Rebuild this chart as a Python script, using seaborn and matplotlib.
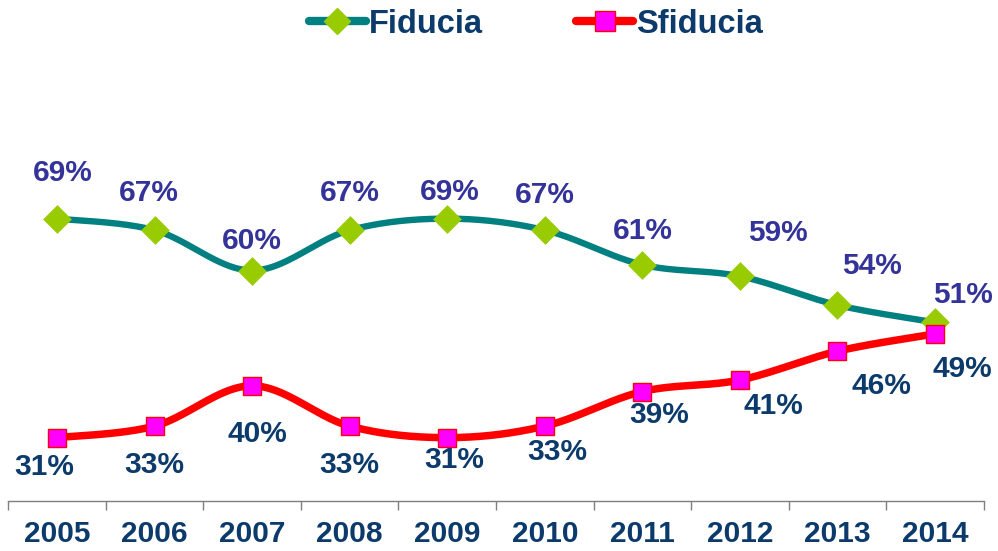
import numpy as np
import pandas as pd
import matplotlib
matplotlib.use("Agg")
import matplotlib.pyplot as plt
from matplotlib.lines import Line2D
from matplotlib import font_manager
import seaborn as sns

years = ["2005", "2006", "2007", "2008", "2009", "2010", "2011", "2012", "2013", "2014"]
fiducia = [69, 67, 60, 67, 69, 67, 61, 59, 54, 51]
sfiducia = [31, 33, 40, 33, 31, 33, 39, 41, 46, 49]

# label offsets in points (dx, dy)
fid_off = [(4, 33), (-4, 27), (0, 21), (0, 27), (2, 19), (0, 25), (0, 24), (27, 31), (25, 28), (20, 20)]
sfi_off = [(-9, -21), (0, -28), (4, -35), (0, -28), (5, -16), (9, -19), (12, -17), (24, -19), (32, -25), (20, -25)]

sns.set_theme(style="white")
names = {f.name for f in font_manager.fontManager.ttflist}
base = "Liberation Sans" if "Liberation Sans" in names else "DejaVu Sans"
plt.rcParams["font.family"] = [base, "DejaVu Sans"]

TEAL = "#008080"
LIME = "#99CC00"
RED = "#FF0000"
MAG = "#FF00FF"
NAVY = "#0B3A6B"
PURP = "#333399"


def smooth(y, n=40):
    x = np.arange(len(y), dtype=float)
    y = np.asarray(y, dtype=float)
    P = np.column_stack([x, y])
    Pp = np.vstack([P[0], P, P[-1]])
    out = []
    t = np.linspace(0, 1, n)[:, None]
    for i in range(len(P) - 1):
        p0 = Pp[i + 1]
        p3 = Pp[i + 2]
        c1 = p0 + (Pp[i + 2] - Pp[i]) / 6.0
        c2 = p3 - (Pp[i + 3] - Pp[i + 1]) / 6.0
        seg = ((1 - t) ** 3) * p0 + 3 * ((1 - t) ** 2) * t * c1 + 3 * (1 - t) * t ** 2 * c2 + t ** 3 * p3
        out.append(seg if i == 0 else seg[1:])
    return np.vstack(out)


fig = plt.figure(figsize=(9.98, 5.51), dpi=100)
ax = fig.add_axes([8.2 / 998, 0.0907, 975.6 / 998, 0.8367])

xs = np.arange(len(years))
df = pd.DataFrame({"x": xs, "Fiducia": fiducia, "Sfiducia": sfiducia})

cf = smooth(fiducia)
cs = smooth(sfiducia)
ax.plot(cf[:, 0], cf[:, 1], color=TEAL, lw=4.6, solid_capstyle="round", zorder=2)
ax.plot(cs[:, 0], cs[:, 1], color=RED, lw=5.4, solid_capstyle="round", zorder=2)

sns.scatterplot(data=df, x="x", y="Fiducia", marker="D", s=215, color=LIME,
                edgecolor=LIME, linewidth=0, ax=ax, zorder=3)
sns.scatterplot(data=df, x="x", y="Sfiducia", marker="s", s=175, color=MAG,
                edgecolor=RED, linewidth=1.0, ax=ax, zorder=4)

for i, v in enumerate(fiducia):
    ax.annotate(f"{v}%", (xs[i], v), xytext=fid_off[i], textcoords="offset points",
                ha="center", va="center", fontsize=21.5, fontweight="bold", color=PURP, zorder=5)
for i, v in enumerate(sfiducia):
    ax.annotate(f"{v}%", (xs[i], v), xytext=sfi_off[i], textcoords="offset points",
                ha="center", va="center", fontsize=21.5, fontweight="bold", color=NAVY, zorder=5)

ax.set_xlim(-0.5, len(years) - 0.5)
ax.set_ylim(20, 100)
ax.set_xlabel("")
ax.set_ylabel("")
ax.set_yticks([])
ax.set_xticks(xs)
ax.set_xticklabels(years, color=NAVY, fontsize=21.5, fontweight="bold")
ax.set_xticks(np.arange(-0.5, len(years)), minor=True)
ax.tick_params(axis="x", which="major", length=0, pad=14)
ax.tick_params(axis="x", which="minor", length=6.5, width=1, color="#7F7F7F", direction="out", bottom=True)
for s in ["top", "left", "right"]:
    ax.spines[s].set_visible(False)
ax.spines["bottom"].set_color("#7F7F7F")
ax.spines["bottom"].set_linewidth(1)

handles = [
    Line2D([0], [0], color=TEAL, lw=6, marker="D", markersize=13, markerfacecolor=LIME,
           markeredgecolor=LIME, solid_capstyle="round"),
    Line2D([0], [0], color=RED, lw=6, marker="s", markersize=14, markerfacecolor=MAG,
           markeredgecolor=RED, solid_capstyle="round"),
]
leg = fig.legend(handles, ["Fiducia", "Sfiducia"], loc="center", bbox_to_anchor=(0.537, 0.956),
                 ncol=2, frameon=False, handlelength=1.75, handletextpad=0.1, columnspacing=2.85,
                 prop={"size": 23.5, "weight": "bold"})
for t in leg.get_texts():
    t.set_color(NAVY)

fig.savefig("out.png", dpi=100)
